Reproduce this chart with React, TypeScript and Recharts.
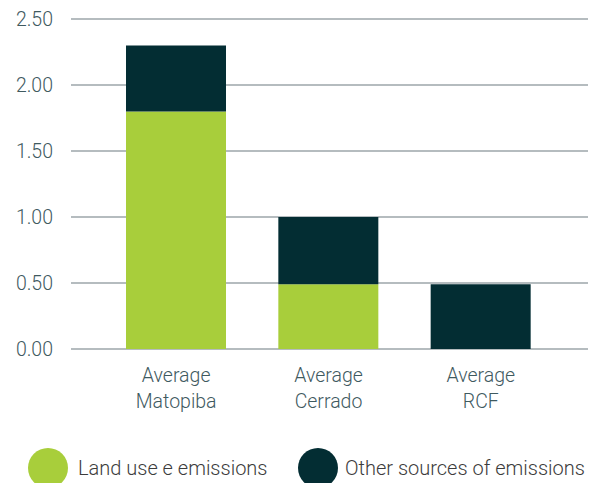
import { BarChart, Bar, XAxis, YAxis, CartesianGrid, Legend } from "recharts";

const categories = ["Average Matopiba", "Average Cerrado", "Average RCF"];
const landUse = [1.8, 0.49, 0];
const otherSources = [0.5, 0.51, 0.49];
const yTicks = [0, 0.5, 1, 1.5, 2, 2.5];

const GREEN = "#a8ce3b";
const DARK = "#032d33";
const FONT = "Roboto, 'DejaVu Sans', sans-serif";

const data = categories.map((name, i) => ({
    name,
    land: landUse[i],
    other: otherSources[i],
}));

const series = [
    { key: "land", label: "Land use e emissions", color: GREEN },
    { key: "other", label: "Other sources of emissions", color: DARK },
];

function CategoryTick({ x, y, payload }: any) {
    const lines = String(payload.value).split(" ");
    return (
        <text x={x} y={y} textAnchor="middle" fill="#3f5a5f" fontSize={19.5} fontFamily={FONT} fontWeight={300}>
            {lines.map((line, i) => (
                <tspan key={i} x={x} dy={i === 0 ? 31 : 26}>
                    {line}
                </tspan>
            ))}
        </text>
    );
}

function LegendContent() {
    return (
        <svg width={601} height={74} style={{ display: "block" }}>
            <circle cx={48} cy={59} r={20} fill={GREEN} />
            <text x={78} y={66} fontSize={20} fontFamily={FONT} fontWeight={300} fill="#3c3c3c">
                {series[0].label}
            </text>
            <circle cx={318} cy={59} r={20} fill={DARK} />
            <text x={345} y={66} fontSize={20} fontFamily={FONT} fontWeight={300} fill="#3c3c3c">
                {series[1].label}
            </text>
        </svg>
    );
}

export default function App() {
    return (
        <div style={{ position: "absolute", left: 0, top: 0, width: 601, height: 483, overflow: "hidden", background: "#fff" }}>
            <BarChart width={601} height={483} data={data} margin={{ top: 19, right: 13, left: 0, bottom: 0 }}>
                <CartesianGrid vertical={false} stroke="#b5bcbf" strokeWidth={2} />
                <XAxis
                    dataKey="name"
                    axisLine={false}
                    tickLine={false}
                    tickSize={0}
                    tick={<CategoryTick />}
                    padding={{ left: 29, right: 31 }}
                    height={60}
                    interval={0}
                />
                <YAxis
                    domain={[0, 2.5]}
                    ticks={yTicks}
                    axisLine={false}
                    tickLine={false}
                    tickSize={0}
                    tickMargin={18}
                    width={71}
                    tickFormatter={(v: number) => v.toFixed(2)}
                    tick={{ fill: "#3f5a5f", fontSize: 19.5, fontFamily: FONT, fontWeight: 300 }}
                />
                <Legend verticalAlign="bottom" height={74} content={<LegendContent />} />
                {series.map((s) => (
                    <Bar key={s.key} dataKey={s.key} name={s.label} stackId="a" fill={s.color} barSize={100} isAnimationActive={false} />
                ))}
            </BarChart>
        </div>
    );
}
